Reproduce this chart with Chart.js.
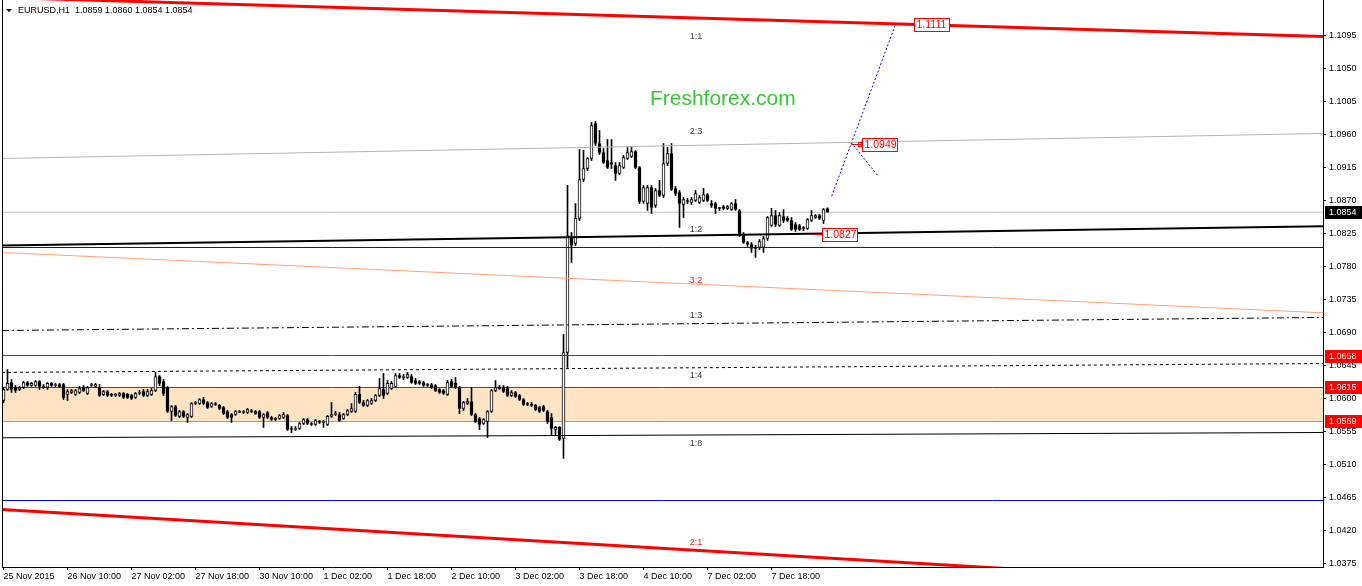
<!DOCTYPE html>
<html>
<head>
<meta charset="utf-8">
<script src="https://cdn.jsdelivr.net/npm/chart.js"></script>
<style>
  html, body { margin: 0; padding: 0; background: #fff; overflow: hidden; }
  #wrap { width: 1362px; height: 586px; position: relative; }
</style>
</head>
<body>
<div id="wrap"><canvas id="chart"></canvas></div>
<script>
// EURUSD H1, bar 0 = 25 Nov 2015 18:00
const opens = [
  1.05973, 1.06123, 1.06218, 1.06150, 1.06123, 1.06150, 1.06218, 1.06177, 1.06177, 1.06232,
  1.06164, 1.06150, 1.06205, 1.06177, 1.06191, 1.06191, 1.06055, 1.06082, 1.06055, 1.06082,
  1.06150, 1.06068, 1.06177, 1.06164, 1.06150, 1.06055, 1.06095, 1.06055, 1.06041, 1.06041,
  1.06068, 1.06055, 1.06041, 1.06014, 1.06068, 1.06095, 1.06041, 1.06055, 1.06109, 1.06300,
  1.06232, 1.06150, 1.05823, 1.05891, 1.05755, 1.05823, 1.05741, 1.05755, 1.05932, 1.05932,
  1.05986, 1.05945, 1.05891, 1.05932, 1.05905, 1.05877, 1.05823, 1.05782, 1.05782, 1.05823,
  1.05809, 1.05809, 1.05836, 1.05823, 1.05823, 1.05741, 1.05809, 1.05741, 1.05727, 1.05727,
  1.05741, 1.05768, 1.05591, 1.05577, 1.05591, 1.05659, 1.05714, 1.05659, 1.05645, 1.05686,
  1.05673, 1.05645, 1.05755, 1.05782, 1.05782, 1.05727, 1.05782, 1.05823, 1.05823, 1.06055,
  1.05945, 1.05905, 1.05932, 1.05973, 1.06041, 1.06123, 1.06068, 1.06136, 1.06164, 1.06314,
  1.06286, 1.06286, 1.06300, 1.06245, 1.06232, 1.06218, 1.06191, 1.06191, 1.06177, 1.06123,
  1.06109, 1.06055, 1.06232, 1.06205, 1.06150, 1.05864, 1.05932, 1.05959, 1.05782, 1.05727,
  1.05659, 1.05686, 1.05823, 1.06109, 1.06150, 1.06150, 1.06136, 1.06041, 1.06082, 1.06041,
  1.05986, 1.05932, 1.05918, 1.05905, 1.05877, 1.05891, 1.05823, 1.05741, 1.05577, 1.05605,
  1.05455, 1.06627, 1.08196, 1.08114, 1.08455, 1.08986, 1.09136, 1.09273, 1.09750, 1.09477,
  1.09355, 1.09245, 1.09218, 1.09177, 1.09068, 1.09150, 1.09273, 1.09300, 1.09368, 1.09150,
  1.08686, 1.08659, 1.08877, 1.08632, 1.08836, 1.08768, 1.09205, 1.09341, 1.08864, 1.08809,
  1.08645, 1.08700, 1.08673, 1.08700, 1.08673, 1.08700, 1.08782, 1.08659, 1.08659, 1.08605,
  1.08618, 1.08591, 1.08577, 1.08659, 1.08564, 1.08223, 1.08127, 1.08100, 1.08059, 1.08059,
  1.08059, 1.08182, 1.08359, 1.08495, 1.08359, 1.08482, 1.08455, 1.08427, 1.08373, 1.08359,
  1.08332, 1.08318, 1.08427, 1.08468, 1.08495, 1.08427, 1.08590
];
const highs = [
  1.06150, 1.06395, 1.06259, 1.06177, 1.06164, 1.06232, 1.06232, 1.06218, 1.06245, 1.06245,
  1.06191, 1.06218, 1.06218, 1.06205, 1.06205, 1.06205, 1.06123, 1.06123, 1.06123, 1.06164,
  1.06177, 1.06164, 1.06205, 1.06205, 1.06191, 1.06109, 1.06109, 1.06068, 1.06068, 1.06082,
  1.06082, 1.06068, 1.06055, 1.06082, 1.06109, 1.06123, 1.06123, 1.06136, 1.06355, 1.06314,
  1.06259, 1.06164, 1.05905, 1.05905, 1.05836, 1.05836, 1.05795, 1.05945, 1.05959, 1.06000,
  1.06014, 1.05959, 1.05945, 1.05945, 1.05918, 1.05891, 1.05836, 1.05795, 1.05836, 1.05836,
  1.05836, 1.05864, 1.05850, 1.05836, 1.05836, 1.05795, 1.05823, 1.05755, 1.05741, 1.05782,
  1.05809, 1.05782, 1.05618, 1.05618, 1.05673, 1.05727, 1.05727, 1.05673, 1.05714, 1.05700,
  1.05700, 1.05768, 1.05945, 1.05823, 1.05809, 1.05795, 1.05850, 1.05932, 1.06082, 1.06164,
  1.05973, 1.05986, 1.06000, 1.06055, 1.06273, 1.06341, 1.06245, 1.06232, 1.06341, 1.06341,
  1.06327, 1.06355, 1.06327, 1.06273, 1.06245, 1.06232, 1.06205, 1.06205, 1.06191, 1.06136,
  1.06123, 1.06245, 1.06259, 1.06286, 1.06164, 1.05959, 1.06000, 1.06150, 1.05795, 1.05741,
  1.05727, 1.05836, 1.06123, 1.06245, 1.06177, 1.06177, 1.06164, 1.06109, 1.06095, 1.06055,
  1.06000, 1.05945, 1.05945, 1.05918, 1.05891, 1.05905, 1.05836, 1.05795, 1.05618, 1.05618,
  1.06873, 1.08905, 1.08264, 1.08659, 1.09395, 1.09382, 1.09286, 1.09764, 1.09777, 1.09655,
  1.09409, 1.09532, 1.09532, 1.09218, 1.09218, 1.09314, 1.09423, 1.09436, 1.09382, 1.09164,
  1.08905, 1.08905, 1.08905, 1.08864, 1.08973, 1.09477, 1.09423, 1.09477, 1.08891, 1.08836,
  1.08741, 1.08727, 1.08741, 1.08836, 1.08768, 1.08864, 1.08795, 1.08700, 1.08673, 1.08605,
  1.08632, 1.08632, 1.08673, 1.08714, 1.08577, 1.08264, 1.08141, 1.08127, 1.08086, 1.08168,
  1.08209, 1.08482, 1.08591, 1.08564, 1.08536, 1.08577, 1.08482, 1.08468, 1.08400, 1.08373,
  1.08345, 1.08455, 1.08564, 1.08509, 1.08509, 1.08591, 1.08600
];
const lows = [
  1.05945, 1.06109, 1.06082, 1.06082, 1.06109, 1.06136, 1.06164, 1.06164, 1.06164, 1.06123,
  1.06136, 1.06123, 1.06164, 1.06164, 1.06150, 1.05986, 1.05973, 1.06068, 1.06041, 1.06068,
  1.06095, 1.06055, 1.06164, 1.06150, 1.06027, 1.06041, 1.06027, 1.06027, 1.06027, 1.06027,
  1.06000, 1.06000, 1.05986, 1.06000, 1.06055, 1.06027, 1.06027, 1.06041, 1.06095, 1.06177,
  1.06041, 1.05809, 1.05700, 1.05755, 1.05741, 1.05741, 1.05673, 1.05741, 1.05918, 1.05918,
  1.05918, 1.05864, 1.05877, 1.05905, 1.05850, 1.05782, 1.05727, 1.05673, 1.05768, 1.05809,
  1.05795, 1.05795, 1.05809, 1.05782, 1.05727, 1.05605, 1.05727, 1.05700, 1.05700, 1.05714,
  1.05727, 1.05564, 1.05536, 1.05564, 1.05577, 1.05645, 1.05645, 1.05632, 1.05632, 1.05659,
  1.05605, 1.05632, 1.05741, 1.05768, 1.05686, 1.05714, 1.05768, 1.05809, 1.05809, 1.05932,
  1.05891, 1.05891, 1.05918, 1.05959, 1.06027, 1.06000, 1.06055, 1.06123, 1.06150, 1.06273,
  1.06259, 1.06273, 1.06205, 1.06191, 1.06191, 1.06164, 1.06164, 1.06136, 1.06095, 1.06068,
  1.06055, 1.06041, 1.06150, 1.06136, 1.05795, 1.05836, 1.05918, 1.05768, 1.05673, 1.05577,
  1.05645, 1.05468, 1.05809, 1.06095, 1.06123, 1.06082, 1.06027, 1.06027, 1.06014, 1.05973,
  1.05905, 1.05905, 1.05891, 1.05836, 1.05809, 1.05823, 1.05659, 1.05495, 1.05495, 1.05427,
  1.05182, 1.06423, 1.07855, 1.08086, 1.08427, 1.08959, 1.09109, 1.09245, 1.09450, 1.09327,
  1.09205, 1.09136, 1.09136, 1.08973, 1.09055, 1.09136, 1.09259, 1.09286, 1.09136, 1.08659,
  1.08659, 1.08564, 1.08523, 1.08605, 1.08755, 1.08741, 1.09177, 1.08836, 1.08768, 1.08332,
  1.08468, 1.08659, 1.08645, 1.08686, 1.08659, 1.08686, 1.08686, 1.08605, 1.08523, 1.08564,
  1.08577, 1.08577, 1.08564, 1.08564, 1.08209, 1.08114, 1.08073, 1.07991, 1.07923, 1.08032,
  1.07991, 1.08155, 1.08345, 1.08345, 1.08345, 1.08400, 1.08414, 1.08291, 1.08277, 1.08291,
  1.08291, 1.08305, 1.08414, 1.08455, 1.08441, 1.08386, 1.08540
];
const closes = [
  1.06123, 1.06205, 1.06123, 1.06109, 1.06150, 1.06218, 1.06177, 1.06205, 1.06232, 1.06164,
  1.06150, 1.06205, 1.06177, 1.06191, 1.06164, 1.06014, 1.06095, 1.06109, 1.06109, 1.06136,
  1.06109, 1.06150, 1.06191, 1.06191, 1.06041, 1.06095, 1.06041, 1.06041, 1.06055, 1.06068,
  1.06014, 1.06014, 1.06000, 1.06068, 1.06082, 1.06041, 1.06095, 1.06109, 1.06300, 1.06205,
  1.06068, 1.05823, 1.05891, 1.05768, 1.05823, 1.05755, 1.05782, 1.05932, 1.05945, 1.05986,
  1.05932, 1.05877, 1.05932, 1.05918, 1.05864, 1.05795, 1.05741, 1.05741, 1.05823, 1.05809,
  1.05823, 1.05850, 1.05823, 1.05795, 1.05741, 1.05782, 1.05741, 1.05714, 1.05714, 1.05768,
  1.05782, 1.05577, 1.05577, 1.05591, 1.05659, 1.05714, 1.05659, 1.05645, 1.05700, 1.05673,
  1.05686, 1.05755, 1.05782, 1.05795, 1.05700, 1.05782, 1.05836, 1.05864, 1.06055, 1.05945,
  1.05905, 1.05973, 1.05973, 1.06041, 1.06136, 1.06041, 1.06205, 1.06205, 1.06314, 1.06286,
  1.06300, 1.06327, 1.06218, 1.06205, 1.06205, 1.06177, 1.06177, 1.06150, 1.06109, 1.06082,
  1.06068, 1.06218, 1.06164, 1.06150, 1.05864, 1.05945, 1.05959, 1.05782, 1.05686, 1.05645,
  1.05714, 1.05823, 1.06109, 1.06150, 1.06136, 1.06095, 1.06041, 1.06082, 1.06027, 1.05986,
  1.05918, 1.05918, 1.05905, 1.05850, 1.05823, 1.05836, 1.05686, 1.05591, 1.05605, 1.05441,
  1.06627, 1.08223, 1.08086, 1.08455, 1.08986, 1.09136, 1.09273, 1.09723, 1.09477, 1.09355,
  1.09218, 1.09150, 1.09191, 1.09068, 1.09177, 1.09286, 1.09355, 1.09368, 1.09150, 1.08686,
  1.08877, 1.08877, 1.08605, 1.08836, 1.08768, 1.09205, 1.09341, 1.08850, 1.08795, 1.08659,
  1.08714, 1.08686, 1.08714, 1.08795, 1.08741, 1.08782, 1.08700, 1.08632, 1.08591, 1.08591,
  1.08591, 1.08618, 1.08659, 1.08577, 1.08223, 1.08127, 1.08100, 1.08045, 1.08045, 1.08141,
  1.08182, 1.08468, 1.08495, 1.08373, 1.08495, 1.08427, 1.08427, 1.08305, 1.08305, 1.08305,
  1.08318, 1.08441, 1.08495, 1.08495, 1.08455, 1.08577, 1.08540
];

const timeTickBars = [0, 16, 32, 48, 64, 80, 96, 112, 128, 144, 160, 176, 192];
const timeTickLabels = ['25 Nov 2015', '26 Nov 10:00', '27 Nov 02:00', '27 Nov 18:00', '30 Nov 10:00',
  '1 Dec 02:00', '1 Dec 18:00', '2 Dec 10:00', '3 Dec 02:00', '3 Dec 18:00', '4 Dec 10:00',
  '7 Dec 02:00', '7 Dec 18:00'];
const priceTicks = [1.0375, 1.0420, 1.0465, 1.0510, 1.0555, 1.0600, 1.0645, 1.0690, 1.0735,
  1.0780, 1.0825, 1.0870, 1.0915, 1.0960, 1.1005, 1.1050, 1.1095];

// trend lines: [bar, price] at both ends
const line1to1 = [[-0.4, 1.11468], [329.9, 1.10936]];
const line2to1 = [[-0.4, 1.04486], [329.9, 1.03427]];
const line2to3 = [[-0.4, 1.09273], [329.9, 1.09614]];
const line1to2 = [[-0.4, 1.08086], [329.9, 1.08350]];
const line3to2 = [[-0.4, 1.07991], [329.9, 1.07168]];
const line1to3 = [[-0.4, 1.06927], [329.9, 1.07105]];
const line1to4 = [[-0.4, 1.06355], [329.9, 1.06477]];
const line1to8 = [[-0.4, 1.05464], [329.9, 1.05536]];
const forecastUp = [[207.05, 1.08759], [222.9, 1.11086]];
const forecastDown = [[211.9, 1.09491], [218.7, 1.09031]];

// horizontal levels
const bidPrice = 1.0854;
const blueLevels = [1.08059, 1.04609];
const redLevels = [1.06586, 1.0615, 1.0569];
const zoneTop = 1.0615, zoneBottom = 1.0569;

const ratioNames = ['1:1', '2:3', '1:2', '3:2', '1:3', '1:4', '1:8', '2:1'];
const ratioPrices = [1.10936, 1.09641, 1.08305, 1.07609, 1.07132, 1.06314, 1.05386, 1.04036];
const ratioBar = 173.1;

const priceTags = ['1.1111', '1.0949', '1.0827'];
const priceTagBars = [227.6, 214.6, 204.6];
const priceTagPrices = [1.1110, 1.09477, 1.08243];
const priceTagFrom = [null, 211.9, 202.4];

const axisMarks = [1.0854, 1.0658, 1.0615, 1.0569];

const FONT = '"Liberation Sans", Arial, sans-serif';
const X_MIN = -0.375, X_MAX = 329.875;

const bodies = opens.map((o, k) => ({ x: k, y: [o, closes[k]] }));
const wicks = opens.map((o, k) => ({ x: k, y: [lows[k], highs[k]] }));

function seg(pts, color, width, dash, order) {
  return {
    type: 'line',
    data: pts.map(p => ({ x: p[0], y: p[1] })),
    borderColor: color,
    borderWidth: width,
    borderDash: dash || [],
    pointRadius: 0,
    fill: false,
    tension: 0,
    order: order === undefined ? -1 : order
  };
}
function level(v) { return [[X_MIN, v], [X_MAX, v]]; }

const zoneTopSet = seg(level(zoneTop), '#ff0000', 1, null, 20);
zoneTopSet.fill = '+1';
zoneTopSet.backgroundColor = '#ffe4c4';
const zoneBottomSet = seg(level(zoneBottom), '#ff0000', 1, null, 20);

const overlay = {
  id: 'overlay',
  afterDatasetsDraw(chart) {
    const { ctx, chartArea, scales: { x, y } } = chart;
    ctx.save();
    ctx.beginPath();
    ctx.rect(chartArea.left, chartArea.top, chartArea.right - chartArea.left, chartArea.bottom - chartArea.top);
    ctx.clip();

    ctx.font = '9px ' + FONT;
    ctx.textAlign = 'center';
    ctx.textBaseline = 'middle';
    ratioNames.forEach((t, k) => {
      ctx.fillStyle = (t === '3:2' || t === '2:1') ? '#e8262a' : '#3c3c3c';
      ctx.fillText(t, x.getPixelForValue(ratioBar), y.getPixelForValue(ratioPrices[k]));
    });

    ctx.font = '21px ' + FONT;
    ctx.textAlign = 'left';
    ctx.fillStyle = '#34c934';
    ctx.fillText('Freshforex.com', x.getPixelForValue(161.6), y.getPixelForValue(1.10077));

    ctx.font = '10.5px ' + FONT;
    priceTags.forEach((t, k) => {
      const bx = Math.round(x.getPixelForValue(priceTagBars[k])) + 0.5;
      const by = Math.round(y.getPixelForValue(priceTagPrices[k])) + 0.5;
      ctx.strokeStyle = '#ff0000';
      ctx.lineWidth = 1;
      if (priceTagFrom[k] !== null) {
        const fx = x.getPixelForValue(priceTagFrom[k]);
        ctx.beginPath();
        ctx.moveTo(fx, by);
        ctx.lineTo(bx, by);
        ctx.stroke();
        if (k === 1) ctx.strokeRect(bx - 4, by - 2, 3, 4);
      }
      const w = 35, h = 13;
      ctx.fillStyle = '#fff';
      ctx.fillRect(bx, by - 6, w, h);
      ctx.strokeRect(bx, by - 6, w, h);
      ctx.fillStyle = '#ff0000';
      ctx.textBaseline = 'middle';
      ctx.fillText(t, bx + 2, by + 1);
    });
    ctx.restore();
  },
  afterDraw(chart) {
    const { ctx, chartArea, scales: { y } } = chart;
    ctx.save();
    ctx.strokeStyle = '#000';
    ctx.lineWidth = 1;
    ctx.beginPath();
    ctx.moveTo(chartArea.left + 0.5, 0);
    ctx.lineTo(chartArea.left + 0.5, chartArea.bottom);
    ctx.stroke();

    ctx.font = '9px ' + FONT;
    ctx.textBaseline = 'middle';
    ctx.textAlign = 'left';
    axisMarks.forEach((v, k) => {
      const py = Math.round(y.getPixelForValue(v));
      ctx.fillStyle = k === 0 ? '#000' : '#ff0000';
      ctx.fillRect(chartArea.right + 2, py - 6, 37, 13);
      ctx.fillStyle = '#fff';
      ctx.fillText(v.toFixed(4), chartArea.right + 6, py + 0.5);
    });

    ctx.fillStyle = '#000';
    ctx.beginPath();
    ctx.moveTo(6, 9);
    ctx.lineTo(12, 9);
    ctx.lineTo(9, 12);
    ctx.closePath();
    ctx.fill();
    ctx.fillText('EURUSD,H1  ' + [opens[206], highs[206], lows[206], closes[206]].map(v => v.toFixed(4)).join(' '), 18, 11);
    ctx.restore();
  }
};

new Chart(document.getElementById('chart'), {
  type: 'bar',
  data: {
    datasets: [
      {
        type: 'bar',
        data: bodies,
        grouped: false,
        barThickness: 3,
        borderWidth: 1,
        borderSkipped: false,
        minBarLength: 1,
        borderColor: '#000',
        backgroundColor: c => closes[c.dataIndex] >= opens[c.dataIndex] ? '#fff' : '#000',
        order: 0
      },
      {
        type: 'bar',
        data: wicks,
        grouped: false,
        barThickness: 1,
        borderWidth: 0,
        backgroundColor: '#000',
        order: 1
      },
      seg(line1to1, '#ff0000', 3),
      seg(line2to1, '#ff0000', 3),
      seg(line2to3, '#b4b4b4', 1),
      seg(level(bidPrice), '#c0c0c0', 1, null, 5),
      seg(line1to2, '#000', 2),
      seg(level(blueLevels[0]), '#0000ff', 1),
      seg(line3to2, '#ffa07a', 1),
      seg(line1to3, '#000', 1, [7, 3, 2, 3]),
      seg(level(redLevels[0]), '#ff0000', 1),
      seg(line1to4, '#000', 1, [3, 3]),
      zoneTopSet,
      zoneBottomSet,
      seg(line1to8, '#000', 1),
      seg(level(blueLevels[1]), '#0000ff', 1),
      seg(forecastUp, '#0000ff', 1, [2, 2]),
      seg(forecastDown, '#0000ff', 1, [2, 2])
    ]
  },
  options: {
    responsive: true,
    maintainAspectRatio: false,
    animation: false,
    events: [],
    layout: { padding: { left: 2, top: 0, right: 0, bottom: 0 } },
    plugins: {
      legend: { display: false },
      tooltip: { enabled: false }
    },
    scales: {
      x: {
        type: 'linear',
        min: X_MIN,
        max: X_MAX,
        offset: false,
        grid: { display: true, drawOnChartArea: false, offset: false, color: '#000', tickLength: 3 },
        border: { display: true, color: '#000' },
        afterBuildTicks: scale => { scale.ticks = timeTickBars.map(v => ({ value: v })); },
        afterFit: scale => { scale.height = 19; scale.paddingLeft = 0; scale.paddingRight = 0; },
        ticks: {
          autoSkip: false,
          maxRotation: 0,
          align: 'start',
          padding: 1,
          color: '#000',
          font: { family: FONT, size: 9 },
          callback: (value, index) => timeTickLabels[index]
        }
      },
      y: {
        type: 'linear',
        position: 'right',
        min: 1.03702,
        max: 1.11434,
        beginAtZero: false,
        grid: { display: true, drawOnChartArea: false, color: '#000', tickLength: 3 },
        border: { display: true, color: '#000' },
        afterBuildTicks: scale => { scale.ticks = priceTicks.map(v => ({ value: v })); },
        afterFit: scale => { scale.width = 39; scale.paddingTop = 0; scale.paddingBottom = 0; },
        ticks: {
          padding: 3,
          color: '#000',
          font: { family: FONT, size: 9 },
          callback: value => value.toFixed(4)
        }
      }
    }
  },
  plugins: [overlay]
});
</script>
</body>
</html>
